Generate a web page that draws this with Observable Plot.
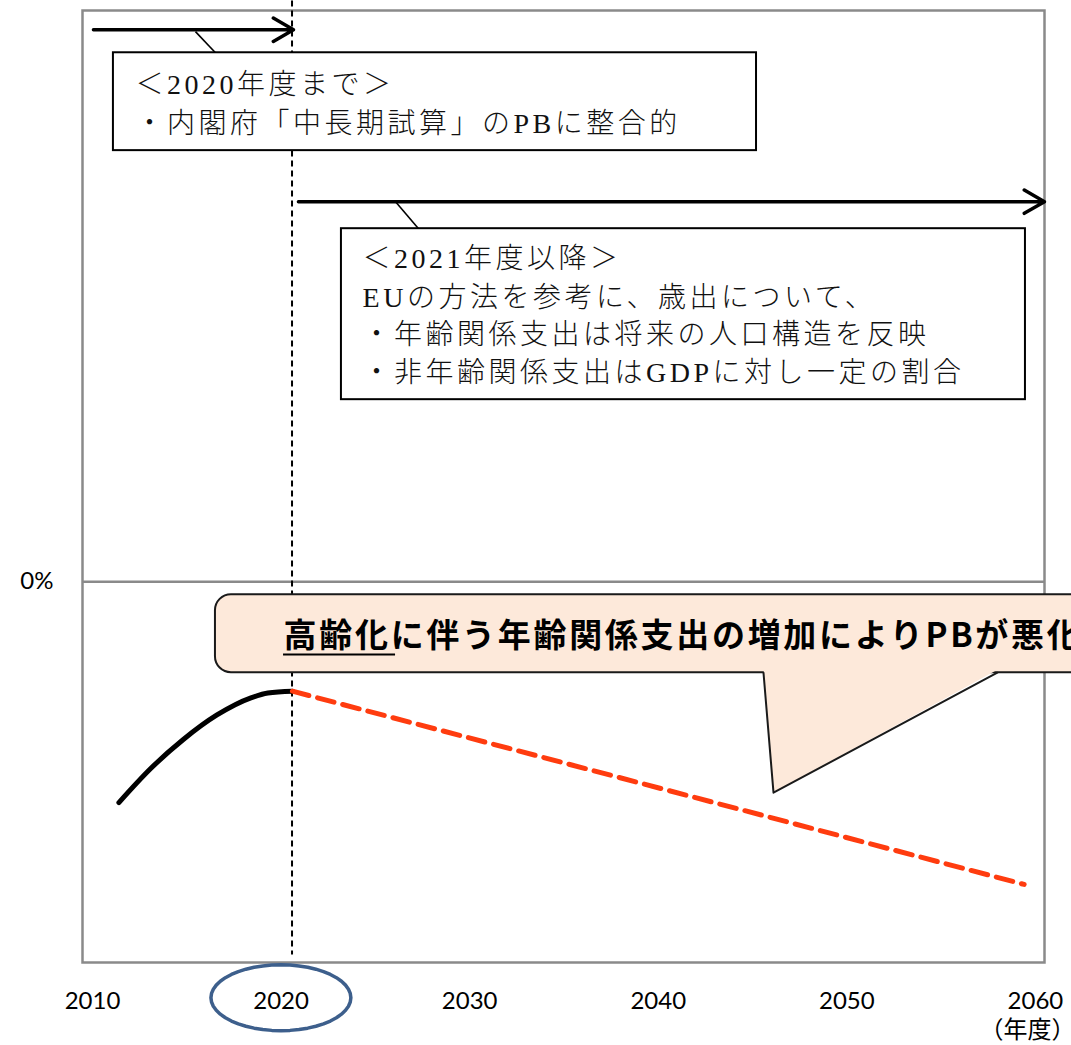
<!DOCTYPE html>
<html><head><meta charset="utf-8">
<script src="https://cdn.jsdelivr.net/npm/d3@7"></script>
<script src="https://cdn.jsdelivr.net/npm/@observablehq/plot@0.6"></script>
<style>
html,body{margin:0;padding:0;background:#fff;overflow:hidden;}
g[font-size="28"] > text{letter-spacing:3.5px;}
g[font-size="33"] > text{letter-spacing:2.7px;}
</style>
</head><body>
<div id="chart"></div>
<script>
// ---- data ----
const yearsActual = [2011.4, 2013.1, 2014.8, 2016.6, 2018.4, 2019.3, 2020.6];
const pbActual    = [-1.16, -0.98, -0.83, -0.70, -0.61, -0.585, -0.575];
const yearsProj   = [2020.6, 2059.4];
const pbProj      = [-0.575, -1.59];
const xTicks      = [2010, 2020, 2030, 2040, 2050, 2060];
const yTicks      = [0];
const boundaryYear = 2020.58;

const box1Lines = ["＜2020年度まで＞", "・内閣府「中長期試算」のPBに整合的"];
const box2Lines = ["＜2021年度以降＞", "EUの方法を参考に、歳出について、", "・年齢関係支出は将来の人口構造を反映", "・非年齢関係支出はGDPに対し一定の割合"];
const calloutText = "高齢化に伴う年齢関係支出の増加によりPBが悪化";
const unitLabel = "（年度）";

// ---- annotation geometry (data units) ----
const actual = yearsActual.map((x, i) => ({x, y: pbActual[i]}));
const proj = yearsProj.map((x, i) => ({x, y: pbProj[i]}));
const arrows = [
  {x1: 2010.05, x2: 2020.66, y: 2.899},
  {x1: 2020.92, x2: 2060.48, y: 1.996}
];
const leaders = [
  {x1: 2015.46, y1: 2.889, x2: 2016.52, y2: 2.778},
  {x1: 2026.07, y1: 1.996, x2: 2027.29, y2: 1.854}
];
const boxes = [
  {x1: 2011.11, x2: 2045.21, y1: 2.264, y2: 2.778},
  {x1: 2023.20, x2: 2059.47, y1: 0.956, y2: 1.854}
];
const box1Y = [2.61, 2.405];
const box2Y = [1.696, 1.492, 1.297, 1.098];
const boxText = [
  ...box1Lines.map((t, i) => ({t, x: 2012.28, y: box1Y[i]})),
  ...box2Lines.map((t, i) => ({t, x: 2024.32, y: box2Y[i]}))
];
const calloutRect = [{x1: 2016.52, x2: 2063.45, y1: -0.478, y2: -0.068}];
const tailFill = [{x: 2045.58, y: -0.462}, {x: 2046.11, y: -1.108}, {x: 2057.98, y: -0.462}];
const tailStroke = [{x: 2045.58, y: -0.478}, {x: 2046.11, y: -1.108}, {x: 2057.98, y: -0.478}];
const underline = [{x1: 2020.13, x2: 2026.07, y: -0.383}];
const ellipseC = {x: 2019.99, y: -2.185, rx: 3.71, ry: 0.173};
const ellipse = d3.range(0, 49).map(k => {
  const a = k / 48 * 2 * Math.PI;
  return {x: ellipseC.x + ellipseC.rx * Math.cos(a), y: ellipseC.y + ellipseC.ry * Math.sin(a)};
});

const serif = "'Liberation Serif','Noto Sans CJK JP',serif";
const sans = "Lato,'Noto Sans CJK JP',sans-serif";

const chart = Plot.plot({
  width: 1071, height: 1045,
  marginLeft: 82, marginRight: 27, marginTop: 10, marginBottom: 83,
  x: {domain: [2009.47, 2060.48], label: null},
  y: {domain: [-2, 3], label: null},
  style: {background: "white", overflow: "visible"},
  marks: [
    Plot.axisX({ticks: xTicks, tickSize: 0, tickPadding: 29, tickFormat: d => String(d), fontSize: 24, fontFamily: sans, fill: "#000"}),
    Plot.axisY({ticks: yTicks, tickSize: 0, tickPadding: 29, tickFormat: () => "0%", fontSize: 24, fontFamily: sans, fill: "#000"}),
    Plot.ruleY(yTicks, {stroke: "#8a8a8a", strokeWidth: 2.5}),
    Plot.frame({stroke: "#8a8a8a", strokeWidth: 2.5}),
    Plot.ruleX([boundaryYear], {y1: 3.05, y2: -1.96, stroke: "#000", strokeWidth: 2, strokeDasharray: "6,4"}),
    Plot.arrow(arrows, {x1: "x1", x2: "x2", y1: "y", y2: "y", stroke: "#000", strokeWidth: 3.5, headLength: 10, headAngle: 60, insetStart: 0, insetEnd: 0}),
    Plot.link(leaders, {x1: "x1", y1: "y1", x2: "x2", y2: "y2", stroke: "#000", strokeWidth: 1.6}),
    Plot.rect(boxes, {x1: "x1", x2: "x2", y1: "y1", y2: "y2", fill: "white", stroke: "#000", strokeWidth: 2}),
    Plot.text(boxText, {x: "x", y: "y", text: "t", textAnchor: "start", lineAnchor: "middle", fontSize: 28, fontFamily: serif, fontWeight: 300, fill: "#111"}),
    Plot.line(actual, {x: "x", y: "y", stroke: "#000", strokeWidth: 5, curve: "monotone-x"}),
    Plot.line(proj, {x: "x", y: "y", stroke: "#ff3c0f", strokeWidth: 5, strokeDasharray: "17,9"}),
    Plot.rect(calloutRect, {x1: "x1", x2: "x2", y1: "y1", y2: "y2", fill: "#fde9da", stroke: "#1a1a1a", strokeWidth: 2, rx: 16}),
    Plot.line(tailFill, {x: "x", y: "y", fill: "#fde9da", stroke: "none"}),
    Plot.line(tailStroke, {x: "x", y: "y", stroke: "#1a1a1a", strokeWidth: 2}),
    Plot.text([calloutText], {x: 2020.13, y: -0.289, text: d => d, textAnchor: "start", lineAnchor: "middle", fontSize: 33, fontWeight: "bold", fontFamily: "'Noto Sans CJK JP',sans-serif", fill: "#000"}),
    Plot.ruleY(underline, {x1: "x1", x2: "x2", y: "y", stroke: "#000", strokeWidth: 2}),
    Plot.line(ellipse, {x: "x", y: "y", stroke: "#3d5f8c", strokeWidth: 3.5}),
    Plot.text([unitLabel], {x: 2059.58, y: -2.355, text: d => d, textAnchor: "middle", lineAnchor: "middle", fontSize: 24, fontFamily: "'Noto Sans CJK JP',sans-serif", fill: "#000"})
  ]
});
document.getElementById("chart").appendChild(chart);
</script>
</body></html>
